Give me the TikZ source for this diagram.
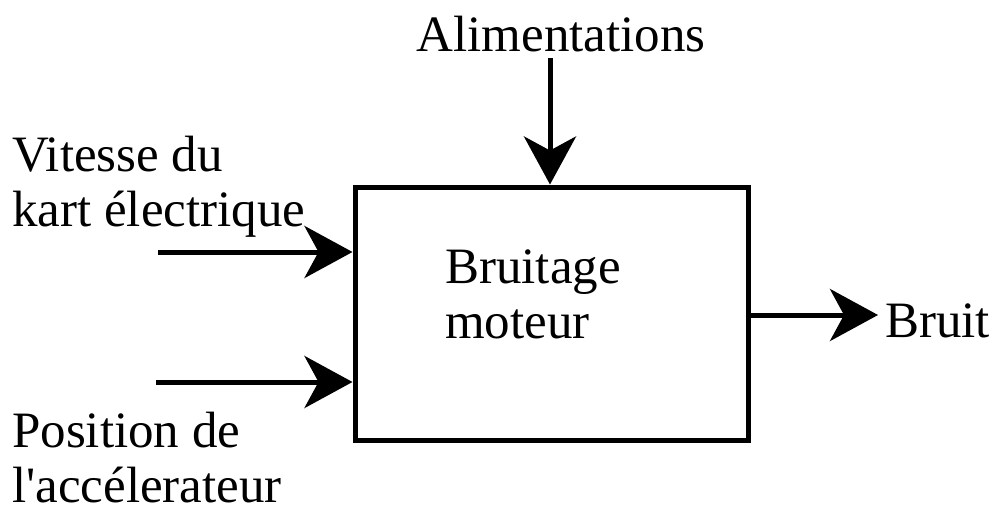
\documentclass[tikz,border=0pt]{standalone}
\usepackage{fontspec}
\setmainfont{Liberation Serif}
\usetikzlibrary{arrows.meta}
\begin{document}
\begin{tikzpicture}[x=1pt,y=1pt,
  lbl/.style={inner sep=0pt,align=left,font=\fontsize{51}{55}\selectfont},
  flow/.style={line width=5pt,-{Stealth[length=48pt,width=52pt,inset=14pt]}},
  block/.style={draw,line width=5pt,minimum width=393pt,minimum height=253pt,inner sep=0pt}]
  \useasboundingbox (0,0) rectangle (1007,-511);
  % central block
  \node[block] (box) at (551.5,-313.5) {};
  \node[lbl,anchor=base west] (name) at (445,-338) {Bruitage\\moteur};
  % inputs and output labels
  \node[lbl,anchor=base] (alim) at (561,-52) {Alimentations};
  \node[lbl,anchor=base west] (vit) at (12,-226) {Vitesse du\\kart électrique};
  \node[lbl,anchor=base west] (pos) at (12,-502) {Position de\\l\textquotesingle accélerateur};
  \node[lbl,anchor=base west] (bruit) at (885,-337) {Bruit};
  % connector end points
  \coordinate (alimS) at (550,-58);
  \coordinate (vitS) at (158,-252);
  \coordinate (posS) at (156,-382);
  \coordinate (outE) at (878,-315);
  \draw[flow] (alimS) -- (alimS |- box.north);
  \draw[flow] (vitS) -- (vitS -| box.west);
  \draw[flow] (posS) -- (posS -| box.west);
  \draw[flow] (outE -| box.east) -- (outE);
\end{tikzpicture}
\end{document}
